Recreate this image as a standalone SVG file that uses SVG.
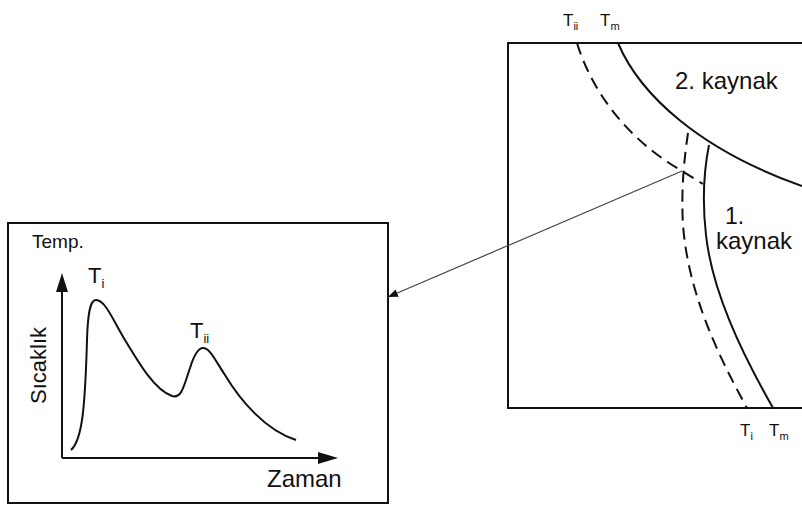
<svg xmlns="http://www.w3.org/2000/svg" width="802" height="505" viewBox="0 0 802 505">
<defs>
<style>
.ln{fill:none;stroke:#111;stroke-width:2}
.dash{fill:none;stroke:#111;stroke-width:2;stroke-dasharray:12 7}
.t{font-family:"Liberation Sans",Arial,sans-serif;fill:#111}
</style>
<marker id="ah" markerWidth="10" markerHeight="8" refX="10" refY="4" orient="auto" markerUnits="userSpaceOnUse">
<path d="M0,0 L10,4 L0,8 Z" fill="#111"/>
</marker>
</defs>
<rect width="802" height="505" fill="#fff"/>
<g id="plate">
<path class="ln" d="M802,43 L508,43 L508,408 L802,408"/>
<path class="dash" d="M577,43 C592,92 628,140 682,171 L703,184"/>
<path class="ln" d="M618,43 C640,95 700,150 802,186"/>
<path class="dash" d="M688,133 C684,160 681,190 683,225 C688,290 715,350 747,408"/>
<path class="ln" d="M709,145 C704,170 702,200 706,235 C712,290 740,350 773,408"/>
<text class="t" x="563" y="26" font-size="17">T<tspan font-size="11" dy="4">ii</tspan></text>
<text class="t" x="600" y="26" font-size="17">T<tspan font-size="11" dy="4">m</tspan></text>
<text class="t" x="740" y="436" font-size="17">T<tspan font-size="11" dy="4">i</tspan></text>
<text class="t" x="769" y="436" font-size="17">T<tspan font-size="11" dy="4">m</tspan></text>
<text class="t" x="675" y="89" font-size="24">2. kaynak</text>
<text class="t" x="725" y="224" font-size="23">1.</text>
<text class="t" x="716" y="249" font-size="24">kaynak</text>
</g>
<g id="graph">
<rect class="ln" x="8" y="223" width="380" height="280"/>
<text class="t" x="32" y="248" font-size="19">Temp.</text>
<text class="t" x="46" y="404" font-size="22" transform="rotate(-90 46 404)">Sıcaklık</text>
<text class="t" x="267" y="487" font-size="24">Zaman</text>
<path class="ln" d="M62,458 L62,290"/>
<path d="M56,292 L62,273 L68,292 Z" fill="#111"/>
<path class="ln" d="M62,458 L320,458"/>
<path d="M318,452 L338,458 L318,464 Z" fill="#111"/>
<path class="ln" d="M71,450 C82,440 85,410 87,340 C88,305 92,300 96,300 C105,300 112,318 125,340 C140,365 155,390 172,396 C182,399 184,385 190,368 C195,352 200,348 203,348 C210,348 215,360 225,375 C240,400 265,430 296,440"/>
<text class="t" x="88" y="283" font-size="22">T<tspan font-size="13" dy="5">i</tspan></text>
<text class="t" x="190" y="338" font-size="22">T<tspan font-size="13" dy="5">ii</tspan></text>
</g>
<g id="connectors">
<path d="M682,171 L388,297" fill="none" stroke="#444" stroke-width="1.2" marker-end="url(#ah)"/>
</g>
</svg>
